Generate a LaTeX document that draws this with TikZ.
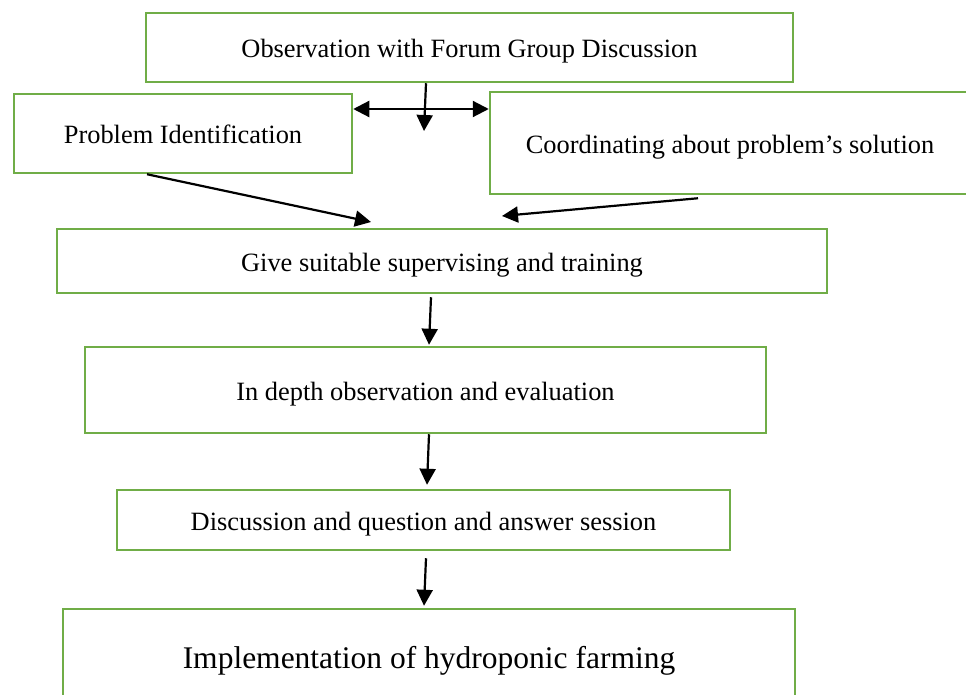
\documentclass[tikz,border=0pt]{standalone}
\usepackage{fontspec}
\setmainfont{Liberation Serif}
\usetikzlibrary{arrows.meta,calc}
\definecolor{boxgreen}{RGB}{112,173,71}
\tikzset{
  box/.style={draw=boxgreen, line width=2.5pt, inner sep=0pt, align=center,
    text height=22pt, text depth=1pt,
    font=\fontsize{26.4}{30}\selectfont},
  tip/.style={Triangle[length=16pt,width=16pt]},
  arr/.style={line width=2.2pt, -{Triangle[length=16pt,width=16pt]}},
  darr/.style={line width=2.2pt, {Triangle[length=16pt,width=16pt]}-{Triangle[length=16pt,width=16pt]}}
}
\begin{document}
\begin{tikzpicture}[x=1pt,y=1pt]
\useasboundingbox (0,0) rectangle (966,-695);
\node[box, minimum width=647pt, minimum height=69pt] (obs) at (469.5,-47.5) {Observation with Forum Group Discussion};
\node[box, minimum width=338pt, minimum height=79pt] (prob) at (183,-133.5) {Problem Identification};
\node[box, minimum width=480pt, minimum height=102pt] (coord) at (730,-143) {Coordinating about problem’s solution};
\node[box, minimum width=770pt, minimum height=64pt] (give) at (442,-261) {Give suitable supervising and training};
\node[box, minimum width=681pt, minimum height=86pt] (depth) at (425.5,-390) {In depth observation and evaluation};
\node[box, minimum width=613pt, minimum height=60pt] (disc) at (423.5,-520) {Discussion and question and answer session};
\node[box, minimum width=732pt, minimum height=96pt, text height=24pt, text depth=1.5pt, font=\fontsize{31.5}{36}\selectfont] (impl) at (429,-657) {Implementation of hydroponic farming};

\coordinate (t1) at (424,-131);
\coordinate (ylev) at (0,-109);
\coordinate (g1) at (371,-222);
\coordinate (g2) at (502,-216);

\draw[arr] ([xshift=-43.5pt]obs.south) -- (t1);
\draw[darr] (prob.east |- ylev) -- (coord.west |- ylev);
\draw[arr] ([xshift=-36pt]prob.south) -- (g1);
\draw[arr] ([xshift=-32pt,yshift=-3pt]coord.south) -- (g2);
\draw[arr] ([xshift=-11pt,yshift=-3pt]give.south) -- ([xshift=3.5pt,yshift=1pt]depth.north);
\draw[arr] ([xshift=3.5pt]depth.south) -- ([xshift=3.5pt,yshift=4pt]disc.north);
\draw[arr] ([xshift=2.5pt,yshift=-7pt]disc.south) -- ([xshift=-5pt,yshift=2pt]impl.north);
\end{tikzpicture}
\end{document}
